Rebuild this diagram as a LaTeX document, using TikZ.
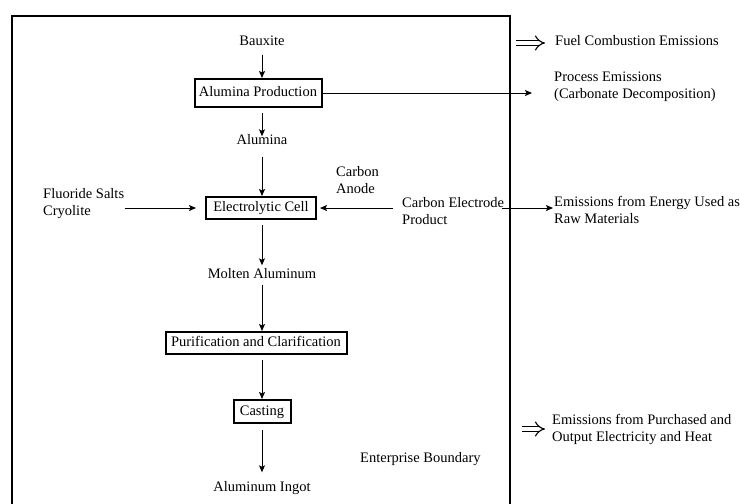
\documentclass[tikz,border=0pt]{standalone}
\usepackage{fontspec}
\setmainfont{Liberation Serif}
\usetikzlibrary{arrows.meta}
\begin{document}
\begin{tikzpicture}[x=1pt,y=-1pt, font=\fontsize{14.5}{17}\selectfont,
 txt/.style={inner sep=2pt, text height=10pt, text depth=3pt},
 mtxt/.style={inner sep=1pt, align=left},
 box/.style={draw, line width=2pt, inner sep=0pt, minimum height=22pt, text height=10pt, text depth=3pt},
 arr/.style={-{Stealth[length=7pt,width=6pt,inset=1.5pt]}, line width=1pt},
 dbl/.style={double, double distance=4.2pt, line width=1.1pt, -{Implies}},
 bound/.style={line width=2.2pt}]
\useasboundingbox (0,0) rectangle (740,504);
\draw[bound] (12,506) -- (12,16) -- (510,16) -- (510,506);

\node[txt] (bauxite) at (262,42) {Bauxite};
\node[box, minimum width=127pt, minimum height=28pt] (ap) at (258,93) {Alumina Production};
\node[txt] (alumina) at (262,141) {Alumina};
\node[box, minimum width=110pt] (ec) at (261,208) {Electrolytic Cell};
\node[mtxt, anchor=west] (fluor) at (42,203.5) {Fluoride Salts\\Cryolite};
\node[mtxt, anchor=west] (anode) at (335,180) {Carbon\\Anode};
\node[mtxt, anchor=west] (cep) at (401,211) {Carbon Electrode\\Product};
\node[txt] (molten) at (262,275) {Molten Aluminum};
\node[box, minimum width=181pt] (pc) at (256,343) {Purification and Clarification};
\node[box, minimum width=57pt, minimum height=23pt] (cast) at (262,411.5) {Casting};
\node[txt] (ingot) at (262,488) {Aluminum Ingot};
\node[txt, anchor=west] (eb) at (358,459) {Enterprise Boundary};
\node[txt, anchor=west] (fuel) at (553,42) {Fuel Combustion Emissions};
\node[mtxt, anchor=west] (proc) at (553,86.5) {Process Emissions\\(Carbonate Decomposition)};
\node[mtxt, anchor=west] (energy) at (553,210) {Emissions from Energy Used as\\Raw Materials};
\node[mtxt, anchor=west] (purch) at (551,429.5) {Emissions from Purchased and\\Output Electricity and Heat};
\coordinate (procin) at (532,93);
\coordinate (d1a) at (516,43);
\coordinate (d1b) at (545,43);
\coordinate (d2a) at (522,429);
\coordinate (d2b) at (545,429);

\draw[dbl] (d1a) -- (d1b);
\draw[dbl] (d2a) -- (d2b);
\draw[arr, shorten <=4pt] (bauxite.south) -- (bauxite.south |- ap.north);
\draw[arr, shorten <=5pt, shorten >=-4pt] (alumina.north |- ap.south) -- (alumina.north);
\draw[arr, shorten <=7pt] (alumina.south) -- (alumina.south |- ec.north);
\draw[arr] (fluor.east |- ec.west) -- ([xshift=-9pt]ec.west);
\draw[arr] ([xshift=-8pt]cep.west |- ec.east) -- ([xshift=3pt]ec.east);
\draw[arr] ([xshift=-3pt]cep.east |- ec.east) -- (energy.west |- ec.east);
\draw[arr] (ap.east) -- (procin);
\draw[arr, shorten <=5pt, shorten >=1pt] (molten.north |- ec.south) -- (molten.north);
\draw[arr, shorten <=1pt] (molten.south) -- (molten.south |- pc.north);
\draw[arr, shorten <=5pt] (cast.north |- pc.south) -- (cast.north);
\draw[arr, shorten <=6pt, shorten >=7pt] (cast.south) -- (ingot.north);
\end{tikzpicture}
\end{document}
